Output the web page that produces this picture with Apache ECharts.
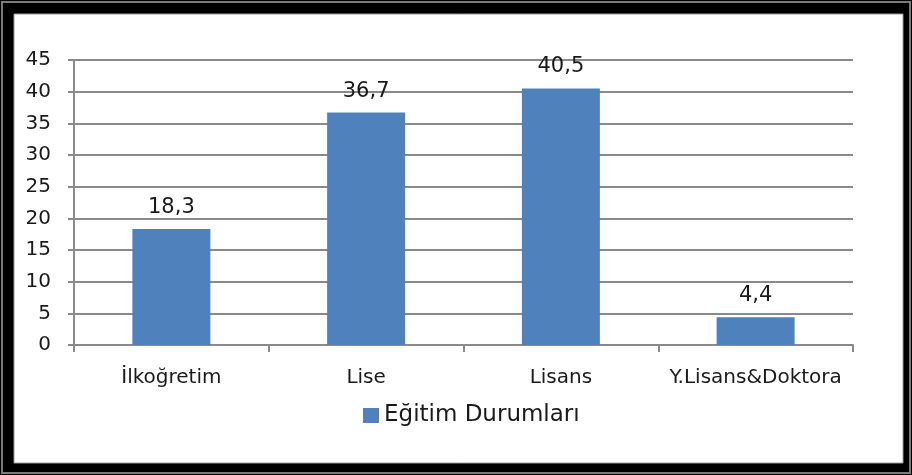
<!DOCTYPE html>
<html>
<head>
<meta charset="utf-8">
<script src="https://cdn.jsdelivr.net/npm/echarts@6/dist/echarts.min.js"></script>
<style>
html,body{margin:0;padding:0;background:#000;}
#chart{width:912px;height:475px;}
</style>
</head>
<body>
<div id="chart"></div>
<script>
var categories = ['İlkoğretim', 'Lise', 'Lisans', 'Y.Lisans&Doktora'];
var values = [18.3, 36.7, 40.5, 4.4];
var seriesName = 'Eğitim Durumları';
var yTicks = {min: 0, max: 45, interval: 5};

var FONT = '"DejaVu Sans", sans-serif';
var chart = echarts.init(document.getElementById('chart'));
chart.setOption({
  backgroundColor: '#000',
  animation: false,
  graphic: [
    {type: 'rect', z: -10, shape: {x: 2, y: 2, width: 908, height: 471},
     style: {fill: '#000', stroke: '#7a7a7a', lineWidth: 2}},
    {type: 'rect', z: -10, shape: {x: 14, y: 14, width: 889, height: 449},
     style: {fill: '#fff', stroke: '#9a9a9a', lineWidth: 1}}
  ],
  grid: {left: 74, right: 59, top: 60, bottom: 130},
  legend: {
    data: [seriesName],
    left: 358, top: 399,
    itemWidth: 16, itemHeight: 15, itemGap: 6,
    icon: 'rect',
    textStyle: {fontFamily: FONT, fontSize: 23, color: '#1a1a1a'}
  },
  xAxis: {
    type: 'category',
    data: categories,
    axisLine: {lineStyle: {color: '#8a8a8a', width: 2}},
    axisTick: {show: true, alignWithLabel: false, interval: 0, length: 7, lineStyle: {color: '#8a8a8a', width: 2}},
    axisLabel: {fontFamily: FONT, fontSize: 20, color: '#1a1a1a', margin: 23, interval: 0, hideOverlap: false}
  },
  yAxis: {
    type: 'value',
    min: yTicks.min, max: yTicks.max, interval: yTicks.interval,
    axisLine: {show: true, lineStyle: {color: '#8a8a8a', width: 2}},
    axisTick: {show: true, length: 6, lineStyle: {color: '#8a8a8a', width: 2}},
    splitLine: {lineStyle: {color: '#8a8a8a', width: 2}},
    axisLabel: {fontFamily: FONT, fontSize: 20, color: '#1a1a1a', margin: 23}
  },
  series: [{
    name: seriesName,
    type: 'bar',
    data: values,
    barWidth: 78,
    itemStyle: {color: '#4F81BD'},
    label: {
      show: true, position: 'top', distance: 11,
      fontFamily: FONT, fontSize: 21, color: '#1a1a1a',
      formatter: function(p){ return String(p.value).replace('.', ','); }
    }
  }]
});
</script>
</body>
</html>
